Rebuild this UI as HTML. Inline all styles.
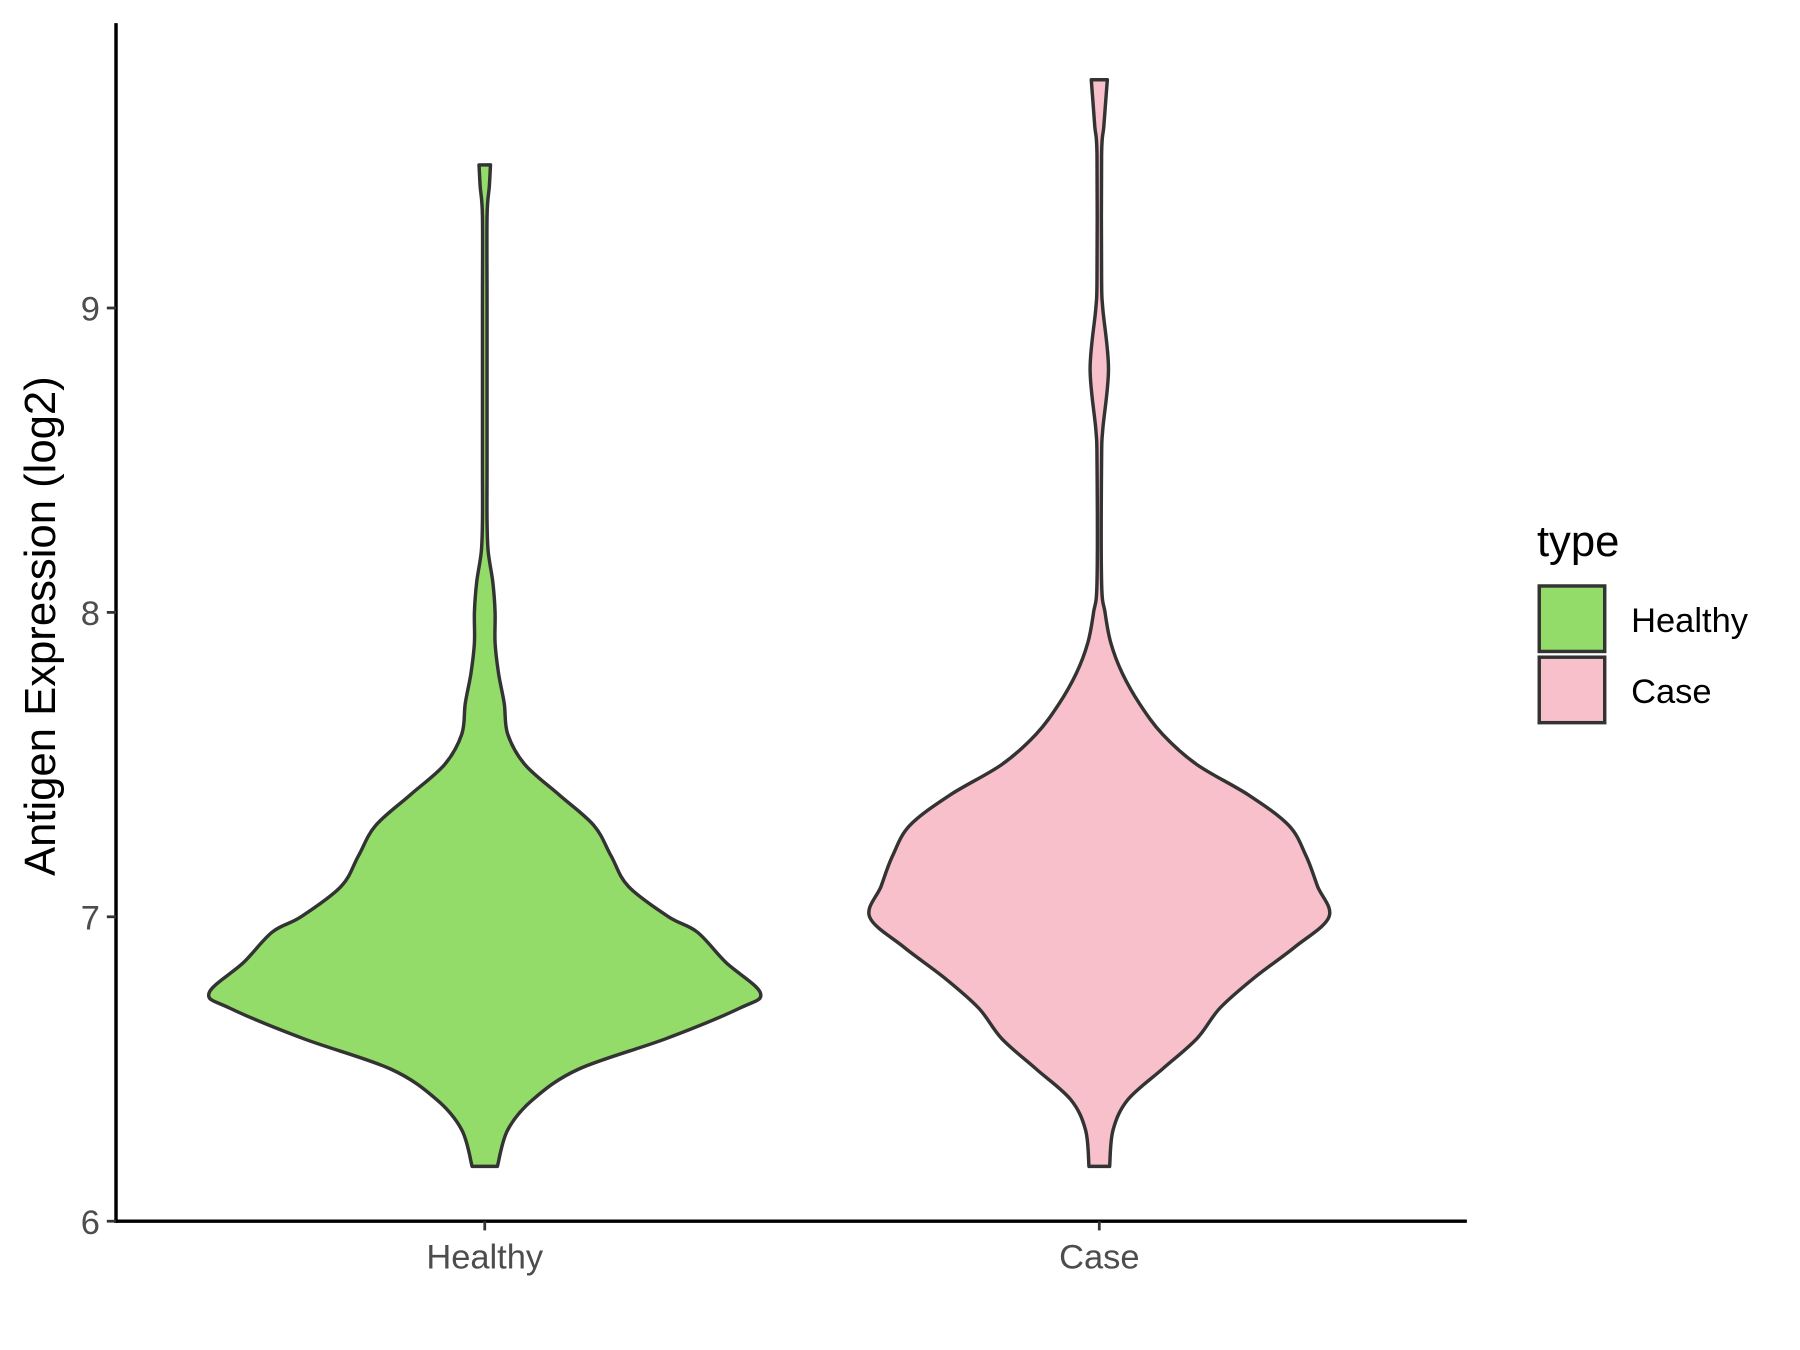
<!DOCTYPE html>
<html><head><meta charset="utf-8"><style>
html,body{margin:0;padding:0;background:#fff;}
svg{display:block;}
text{font-family:"Liberation Sans",Arial,sans-serif;}
</style></head>
<body>
<svg id="chart" width="1800" height="1350" viewBox="0 0 1567 1175" xmlns="http://www.w3.org/2000/svg">
<g id="plot"></g>
<g id="axes"></g>
<g id="legend"></g>
</svg>
<script>
// data
const categories = ["Healthy", "Case"];
const colors = ["#93DC6A", "#F7C0CB"];
const yTicks = [6, 7, 8, 9];
const healthyY = [6.18,6.3,6.4,6.5,6.6,6.7,6.75,6.85,6.95,7.0,7.1,7.2,7.3,7.4,7.5,7.6,7.7,7.8,7.9,8.0,8.1,8.2,8.3,8.5,9.0,9.3,9.4,9.47];
const healthyD = [11,20,42,82,158,222,240,210,185,160,125,110,95,65,35,20,17,12,9,9,7,3,2,2,2,2,4,5];
const caseY = [6.18,6.3,6.4,6.5,6.6,6.7,6.8,6.9,7.0,7.1,7.2,7.3,7.4,7.5,7.6,7.7,7.8,7.9,8.0,8.1,8.5,8.6,8.8,9.0,9.1,9.5,9.6,9.75];
const caseD = [9,12,25,55,85,105,135,170,200,190,180,165,130,85,55,35,20,10,5,2,2,3,8,3,2,2,4,7];
const seriesY = [healthyY, caseY];
const seriesD = [healthyD, caseD];

const NS = "http://www.w3.org/2000/svg";
const X0 = 101, X1 = 1277, Y0 = 1063, YT = 20;
function yScale(v){ return 1063 - (v - 6) * 265; }
function xScale(i){ return 422 + i * 535; }
function wScale(d){ return d; }
function mk(tag, attrs, parent){ const e = document.createElementNS(NS, tag); for (const k in attrs) e.setAttribute(k, attrs[k]); parent.appendChild(e); return e; }

function smoothSide(pts){
  let d = "";
  for (let i = 0; i < pts.length - 1; i++){
    const p0 = pts[Math.max(0,i-1)], p1 = pts[i], p2 = pts[i+1], p3 = pts[Math.min(pts.length-1,i+2)];
    const c1x = p1[0] + (p2[0]-p0[0])/6, c1y = p1[1] + (p2[1]-p0[1])/6;
    const c2x = p2[0] - (p3[0]-p1[0])/6, c2y = p2[1] - (p3[1]-p1[1])/6;
    d += ` C${c1x.toFixed(1)},${c1y.toFixed(1)} ${c2x.toFixed(1)},${c2y.toFixed(1)} ${p2[0].toFixed(1)},${p2[1].toFixed(1)}`;
  }
  return d;
}

const plot = document.getElementById("plot");
categories.forEach((c, i) => {
  const cx = xScale(i), ys = seriesY[i], ds = seriesD[i];
  const right = ys.map((y, k) => [cx + wScale(ds[k]), yScale(y)]);
  const left = ys.map((y, k) => [cx - wScale(ds[k]), yScale(y)]).reverse();
  let d = `M${right[0][0]},${right[0][1]}` + smoothSide(right);
  d += ` L${left[0][0]},${left[0][1]}` + smoothSide(left) + " Z";
  const p = mk("path", {d: d, fill: colors[i], stroke: "#333333", "stroke-width": 3, "stroke-linejoin": "round"}, plot);
  
  
});

const axes = document.getElementById("axes");
const ya = mk("line", {x1: X0, y1: YT, x2: X0, y2: Y0 + 1.5, stroke: "#000", "stroke-width": 3}, axes);


const xa = mk("line", {x1: X0 - 1.5, y1: Y0, x2: X1, y2: Y0, stroke: "#000", "stroke-width": 3}, axes);


yTicks.forEach(t => {
  const y = yScale(t);
  const tk = mk("line", {x1: X0 - 8, y1: y, x2: X0, y2: y, stroke: "#333", "stroke-width": 2.4}, axes);
  
  
  const lb = mk("text", {x: X0 - 14, y: y + 11, "text-anchor": "end", "font-size": 30, fill: "#4D4D4D"}, axes);
  lb.textContent = t;
  
  
});
categories.forEach((c, i) => {
  const x = xScale(i);
  const tk = mk("line", {x1: x, y1: Y0, x2: x, y2: Y0 + 8, stroke: "#333", "stroke-width": 2.4}, axes);
  
  
  const lb = mk("text", {x: x, y: Y0 + 41, "text-anchor": "middle", "font-size": 30, fill: "#4D4D4D"}, axes);
  lb.textContent = c;
  
  
});
const yt = mk("text", {x: 0, y: 0, transform: "translate(48,545) rotate(-90)", "text-anchor": "middle", "font-size": 38, fill: "#000"}, axes);
yt.textContent = "Antigen Expression (log2)";



const legend = document.getElementById("legend");
const lt = mk("text", {x: 1338, y: 484, "font-size": 38, fill: "#000"}, legend);
lt.textContent = "type";


categories.forEach((c, i) => {
  const y = 510 + i * 62;
  const r = mk("rect", {x: 1340, y: y, width: 57, height: 57, fill: colors[i], stroke: "#333", "stroke-width": 3}, legend);
  
  
  const t = mk("text", {x: 1420, y: y + 40, "font-size": 30, fill: "#000"}, legend);
  t.textContent = c;
  
  
});
</script>
</body></html>
